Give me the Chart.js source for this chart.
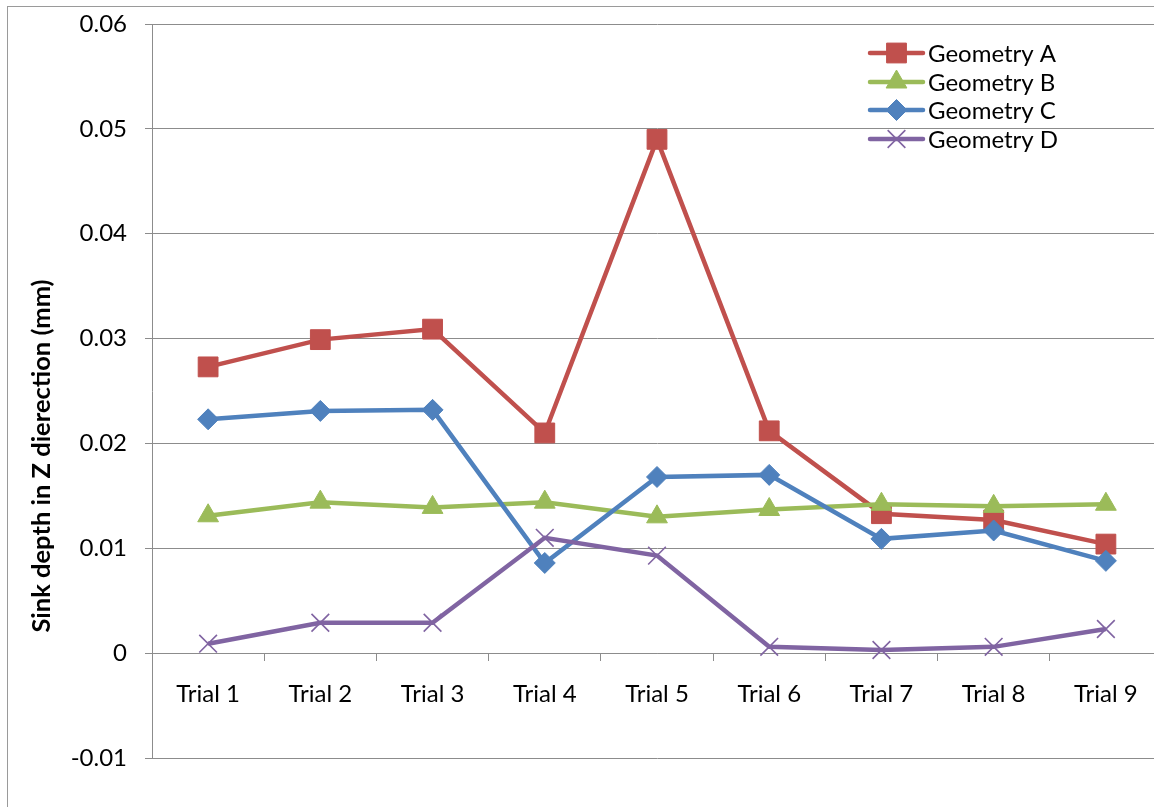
<!DOCTYPE html>
<html>
<head>
<meta charset="utf-8">
<script src="https://cdn.jsdelivr.net/npm/chart.js@4/dist/chart.umd.min.js"></script>
<style>
  html, body { margin: 0; padding: 0; background: #fff; overflow: hidden; }
  #wrap { position: relative; width: 1177px; height: 807px; }
  #frame { position: absolute; left: 7px; top: 6px; width: 1300px; height: 900px;
           border-left: 1px solid #9a9a9a; border-top: 1px solid #9a9a9a; }
  canvas { position: absolute; left: 0; top: 0; }
</style>
</head>
<body>
<div id="wrap">
  <div id="frame"></div>
  <canvas id="chart" width="1177" height="807"></canvas>
</div>
<script>
// Data
const trials = ['Trial 1', 'Trial 2', 'Trial 3', 'Trial 4', 'Trial 5', 'Trial 6', 'Trial 7', 'Trial 8', 'Trial 9'];
const geometryA = [0.0273, 0.0299, 0.0309, 0.0210, 0.0490, 0.0212, 0.0133, 0.0127, 0.0104];
const geometryB = [0.0131, 0.0144, 0.0139, 0.0144, 0.0130, 0.0137, 0.0142, 0.0140, 0.0142];
const geometryC = [0.0223, 0.0231, 0.0232, 0.0086, 0.0168, 0.0170, 0.0109, 0.0117, 0.0088];
const geometryD = [0.0009, 0.0029, 0.0029, 0.0110, 0.0093, 0.0006, 0.0003, 0.0006, 0.0023];
const yMin = -0.01, yMax = 0.06, yStep = 0.01;
const yTitle = 'Sink depth in Z dierection (mm)';

const FONT = 'Lato, "Open Sans", sans-serif';
const GRID = '#8c8c8c';

function series(label, data, color, style, radius, order) {
    return {
        label: label,
        data: data,
        borderColor: color,
        backgroundColor: color,
        borderWidth: 4.5,
        pointStyle: style,
        pointRadius: radius,
        pointHoverRadius: radius,
        pointBorderWidth: style === 'crossRot' ? 1.6 : 1,
        pointBackgroundColor: color,
        pointBorderColor: color,
        tension: 0,
        order: order
    };
}

const datasets = [
    series('Geometry A', geometryA, '#C0504D', 'rect', 14, 4),
    series('Geometry B', geometryB, '#9BBB59', 'triangle', 12, 3),
    series('Geometry C', geometryC, '#4F81BD', 'rectRot', 10.5, 2),
    series('Geometry D', geometryD, '#8064A2', 'crossRot', 12.5, 1)
];

function drawMarker(ctx, style, r, x, y) {
    ctx.beginPath();
    if (style === 'rect') {
        const s = Math.SQRT1_2 * r;
        ctx.rect(x - s, y - s, 2 * s, 2 * s);
        ctx.fill(); ctx.stroke();
    } else if (style === 'triangle') {
        for (let k = 0; k < 3; k++) {
            const a = k * 2 * Math.PI / 3;
            const px = x + Math.sin(a) * r, py = y - Math.cos(a) * r;
            if (k === 0) ctx.moveTo(px, py); else ctx.lineTo(px, py);
        }
        ctx.closePath(); ctx.fill(); ctx.stroke();
    } else if (style === 'rectRot') {
        ctx.moveTo(x, y - r); ctx.lineTo(x + r, y); ctx.lineTo(x, y + r); ctx.lineTo(x - r, y);
        ctx.closePath(); ctx.fill(); ctx.stroke();
    } else {
        const d = Math.SQRT1_2 * r;
        ctx.moveTo(x - d, y - d); ctx.lineTo(x + d, y + d);
        ctx.moveTo(x + d, y - d); ctx.lineTo(x - d, y + d);
        ctx.stroke();
    }
}

// legend drawn inside the plot, top right
const legendPlugin = {
    id: 'boxLegend',
    afterDraw(chart) {
        const ctx = chart.ctx;
        const x0 = 870, x1 = 923, xt = 928;
        const rows = [53, 82, 110, 139];
        ctx.save();
        datasets.forEach((ds, i) => {
            const y = rows[i];
            const xm = (x0 + x1) / 2;
            ctx.strokeStyle = ds.borderColor;
            ctx.lineWidth = ds.borderWidth;
            ctx.lineCap = 'round';
            ctx.beginPath();
            ctx.moveTo(x0, y);
            ctx.lineTo(x1, y);
            ctx.stroke();
            ctx.lineCap = 'butt';
            ctx.fillStyle = ds.pointBackgroundColor;
            ctx.strokeStyle = ds.pointBorderColor;
            ctx.lineWidth = ds.pointBorderWidth;
            drawMarker(ctx, ds.pointStyle, ds.pointRadius, xm, y);
            ctx.fillStyle = '#000';
            ctx.font = '24px ' + FONT;
            ctx.textAlign = 'left';
            ctx.textBaseline = 'middle';
            ctx.fillText(ds.label, xt, y + 1);
        });
        ctx.restore();
    }
};

// y axis title, centred where the reference has it
const titlePlugin = {
    id: 'yTitle',
    afterDraw(chart) {
        const ctx = chart.ctx;
        ctx.save();
        ctx.translate(42, 456);
        ctx.rotate(-Math.PI / 2);
        ctx.font = 'bold 25.5px ' + FONT;
        ctx.fillStyle = '#000';
        ctx.textAlign = 'center';
        ctx.textBaseline = 'middle';
        ctx.fillText(yTitle, 0, 0);
        ctx.restore();
    }
};

new Chart(document.getElementById('chart'), {
    type: 'line',
    data: { labels: trials, datasets: datasets },
    options: {
        responsive: false,
        animation: false,
        layout: { padding: { top: 24, right: 10, bottom: 49, left: 0 } },
        plugins: {
            legend: { display: false },
            tooltip: { enabled: false }
        },
        scales: {
            x: {
                position: { y: 0 },
                offset: true,
                afterFit(scale) { scale.paddingLeft = 0; scale.paddingRight = 0; },
                grid: {
                    offset: true,
                    drawOnChartArea: false,
                    drawTicks: true,
                    tickLength: 7,
                    color: GRID,
                    lineWidth: 1
                },
                border: { display: true, color: GRID, width: 1 },
                ticks: {
                    color: '#000',
                    padding: 20,
                    maxRotation: 0,
                    autoSkip: false,
                    font: { family: FONT, size: 24 }
                }
            },
            y: {
                min: yMin,
                max: yMax,
                afterFit(scale) {
                    scale.width = 152;
                    scale.paddingTop = 0;
                    scale.paddingBottom = 0;
                },
                grid: {
                    color: GRID,
                    lineWidth: 1,
                    tickLength: 7
                },
                border: { display: true, color: GRID, width: 1 },
                ticks: {
                    stepSize: yStep,
                    color: '#000',
                    padding: 18,
                    font: { family: FONT, size: 24 },
                    callback: (v) => String(Number(v.toFixed(2)))
                }
            }
        }
    },
    plugins: [legendPlugin, titlePlugin]
});
</script>
</body>
</html>
